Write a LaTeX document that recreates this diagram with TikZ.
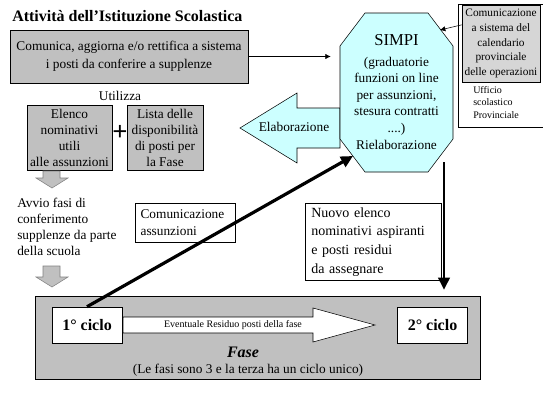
\documentclass[tikz,border=0pt]{standalone}
\usepackage{fontspec}
\setmainfont{Liberation Serif}
\usepackage{tikz}
\usetikzlibrary{arrows.meta,calc,positioning}
\definecolor{boxgray}{RGB}{192,192,192}
\definecolor{simpicyan}{RGB}{204,255,255}
\definecolor{dotgray}{RGB}{214,214,214}

\begin{document}
\begin{tikzpicture}[x=0.75pt,y=-0.75pt,font=\fontsize{10}{12}\selectfont,
  graybox/.style={draw,fill=boxgray,align=center,inner sep=0pt},
  whitebox/.style={draw,fill=white,inner sep=0pt},
  greyarrow/.style={draw=gray,fill=boxgray},
  linkarrow/.style={-{Latex[length=4pt,width=4pt]}},
  bigarrow/.style={line width=2.4pt,-{Triangle[length=9pt,width=8.5pt]}}]
\useasboundingbox[fill=white] (0,0) rectangle (543,407);
\node[font=\bfseries\fontsize{12}{14}\selectfont,anchor=west,inner sep=0pt] (titolo) at (12,16) {Attività dell'Istituzione Scolastica};
\node[graybox,minimum width=178.5pt,minimum height=39.75pt] (comunica) at (129,56.5) {Comunica, aggiorna e/o rettifica a sistema\\[1.5pt]i posti da conferire a supplenze};
\node (utilizza) at (120,96) {Utilizza};
\node[graybox,minimum width=63.75pt,minimum height=48.75pt] (elenco) at (69.5,137.5) {Elenco\\nominativi\\utili\\alle assunzioni};
\node[graybox,minimum width=57pt,minimum height=48.75pt] (lista) at (165,137.5) {Lista delle\\disponibilità\\di posti per\\la Fase};
\node[font=\bfseries\fontsize{20}{20}\selectfont,inner sep=0pt] (piu) at (120,133) {+};
\draw[greyarrow] (43,171) -- (60,171) -- (60,178) -- (68,178) -- (52,188) -- (36,178) -- (43,178) -- cycle;
\node[anchor=north west,align=left,inner sep=0pt] (avvio) at (17,198) {Avvio fasi di\\conferimento\\supplenze da parte\\della scuola};
\draw[greyarrow] (43,266) -- (60,266) -- (60,277) -- (68,277) -- (52,287) -- (36,277) -- (43,277) -- cycle;
\node[whitebox,anchor=north west,minimum width=75pt,minimum height=29.25pt,text width=67pt,inner xsep=4pt,align=left,font=\fontsize{10}{12.75}\selectfont] (assunzioni) at (135,203) {Comunicazione\\assunzioni};
\node[whitebox,anchor=north west,minimum width=98.25pt,minimum height=57.75pt,text width=93pt,inner xsep=4.5pt,align=left,font=\fontsize{10.5}{14}\selectfont] (nuovo) at (305,203) {Nuovo elenco\\nominativi aspiranti\\e posti residui\\da assegnare};
\draw[fill=simpicyan] (340,108) -- (297,108) -- (297,93) -- (240,128) -- (297,163) -- (297,148) -- (340,148) -- cycle;
\node (elab) at (294,127) {Elaborazione};
\draw[fill=simpicyan] (365,13) -- (428,13) -- (453,46) -- (453,139) -- (428,172) -- (365,172) -- (340,139) -- (340,46) -- cycle;
\node[align=center,font=\fontsize{10}{12.4}\selectfont] (simpi) at (396.5,92) {{\fontsize{12.5}{15}\selectfont SIMPI}\\[3pt](graduatorie\\funzioni on line\\per assunzioni,\\stesura contratti\\....)\\Rielaborazione};
\coordinate (simpiW) at (340,56.5);
\coordinate (simpiNE) at (440,30);
\coordinate (simpiSW) at (353,156);
\coordinate (simpiS) at (444,162);
\node[draw,anchor=north west,minimum width=67.5pt,minimum height=92.25pt] (ufficio) at (458,4) {};
\node[draw,fill=dotgray,minimum width=58.5pt,minimum height=57.75pt,align=center,inner sep=0pt,font=\fontsize{8.5}{11}\selectfont] (calendario) at (501,43.5) {Comunicazione\\a sistema del\\calendario\\provinciale\\delle operazioni};
\node[anchor=north west,align=left,inner sep=0pt,font=\fontsize{7.5}{9.4}\selectfont] (usp) at (473,86) {Ufficio\\scolastico\\Provinciale};
\node[draw,fill=boxgray,minimum width=333.75pt,minimum height=62.25pt] (fase) at (257.5,337.5) {};
\node[whitebox,minimum width=52.5pt,minimum height=27pt,font=\bfseries\fontsize{12}{14}\selectfont] (uno) at (87,325) {1° ciclo};
\node[whitebox,minimum width=52.5pt,minimum height=27pt,font=\bfseries\fontsize{12}{14}\selectfont] (due) at (432.5,325) {2° ciclo};
\draw[fill=white] (123,317) -- (313,317) -- (313,308) -- (375,325) -- (313,342) -- (313,333) -- (123,333) -- cycle;
\node[font=\fontsize{7.5}{9}\selectfont] (residuo) at (233,325) {Eventuale Residuo posti della fase};
\node[font=\bfseries\itshape\fontsize{12}{14}\selectfont] (fasetit) at (243,352) {Fase};
\node (fasenota) at (248,370) {(Le fasi sono 3 e la terza ha un ciclo unico)};
\draw[linkarrow,shorten >=7pt] (comunica) -- (simpiW);
\draw[linkarrow] ([yshift=14pt]calendario.west) -- (simpiNE);
\draw[bigarrow] (uno.north) -- (simpiSW);
\draw[bigarrow,line width=2pt,shorten >=4.5pt] (simpiS) -- (simpiS |- fase.north);
\end{tikzpicture}
\end{document}
